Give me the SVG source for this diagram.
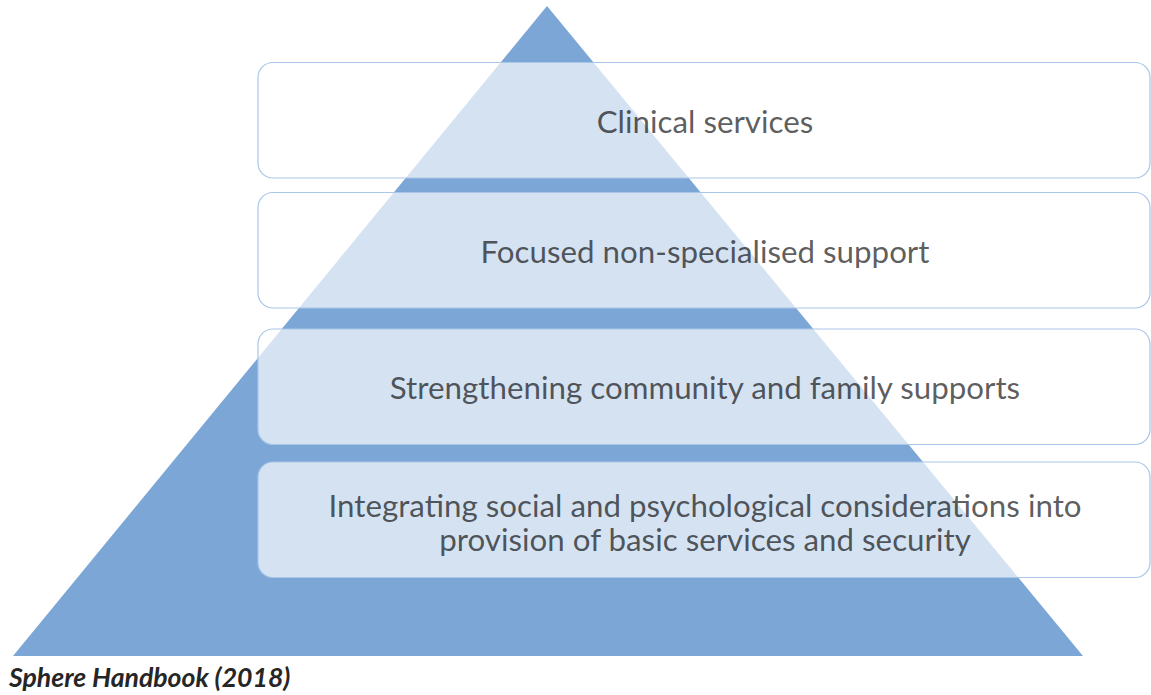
<svg xmlns="http://www.w3.org/2000/svg" width="1151" height="695" viewBox="0 0 1151 695">
<style>
.box{fill:#ffffff;fill-opacity:0.68;stroke:#a9c6e8;stroke-width:1.2}
.lbl{font-family:Lato,"Liberation Sans",sans-serif;font-size:31.3px;fill:#000000;fill-opacity:0.65;text-anchor:middle}
.cap{font-family:Lato,"Liberation Sans",sans-serif;font-size:26.6px;font-weight:bold;font-style:italic;fill:#262626}
</style>
<rect width="1151" height="695" fill="#ffffff"/>
<g id="pyramid"><polygon points="547,6 1083,656 13,656" fill="#7ba6d6"/></g>
<g id="connectors"></g>
<g id="node1"><rect class="box" x="258" y="62.5" width="892" height="115.5" rx="15"/><text class="lbl" x="705" y="133">Clinical services</text></g>
<g id="node2"><rect class="box" x="258" y="192.5" width="892" height="115.5" rx="15"/><text class="lbl" x="705" y="263">Focused non-specialised support</text></g>
<g id="node3"><rect class="box" x="258" y="329" width="892" height="115.5" rx="15"/><text class="lbl" x="705" y="399">Strengthening community and family supports</text></g>
<g id="node4"><rect class="box" x="258" y="462" width="892" height="115.5" rx="15"/><text class="lbl" x="705" y="517"><tspan x="705" y="517">Integrating social and psychological considerations into</tspan><tspan x="705" y="551">provision of basic services and security</tspan></text></g>
<text class="cap" x="9" y="687">Sphere Handbook (2018)</text>
</svg>
